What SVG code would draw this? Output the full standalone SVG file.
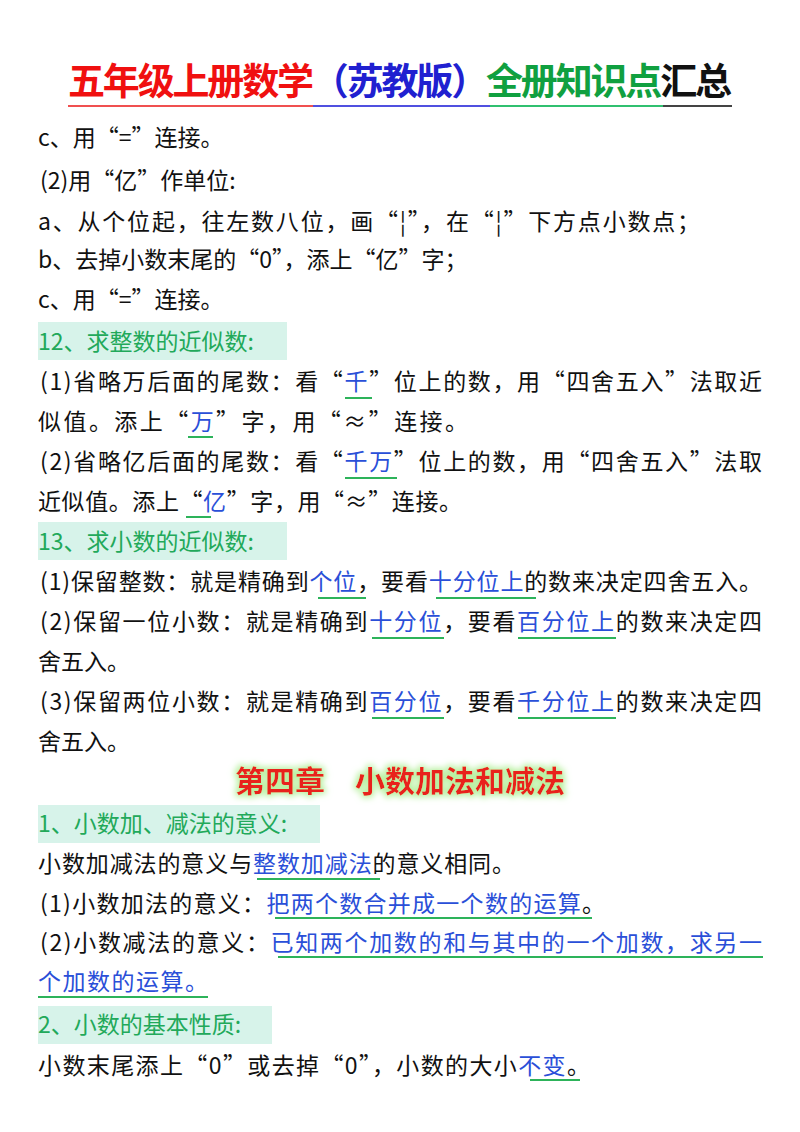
<svg xmlns="http://www.w3.org/2000/svg" width="800" height="1132" viewBox="0 0 800 1132">
<defs>
<style>
text{font-family:"Noto Sans CJK SC","Liberation Serif",serif;font-size:23px;fill:#111}
.t{font-size:37px;font-weight:bold}
.h{fill:#22a95a}
.b{fill:#2a4fd8}
.u{stroke:#2db35a;stroke-width:2}
.box{fill:#d7f3ea}
.ch{font-size:30px;font-weight:bold;fill:#e8201a}
</style>
<filter id="glow" x="-20%" y="-50%" width="140%" height="200%">
<feMorphology in="SourceAlpha" operator="dilate" radius="2" result="d"/>
<feGaussianBlur in="d" stdDeviation="3" result="g"/>
<feFlood flood-color="#b8f0a0"/>
<feComposite in2="g" operator="in" result="c"/>
<feMerge><feMergeNode in="c"/><feMergeNode in="SourceGraphic"/></feMerge>
</filter>
</defs>
<rect width="800" height="1132" fill="#fff"/>
<g id="title">
<text x="68" y="95" class="t" textLength="664"><tspan fill="#f01010">五年级上册数学</tspan><tspan fill="#2020d0">（苏教版）</tspan><tspan fill="#10a040">全册知识点</tspan><tspan fill="#111">汇总</tspan></text>
<line x1="68" y1="106" x2="313" y2="106" stroke="#f05050" stroke-width="2"/>
<line x1="313" y1="106" x2="490" y2="106" stroke="#5050e0" stroke-width="2"/>
<line x1="490" y1="106" x2="663" y2="106" stroke="#30c070" stroke-width="2"/>
<line x1="663" y1="106" x2="732" y2="106" stroke="#444" stroke-width="2"/>
</g>
<text x="38" y="146">c、用“=”连接。</text>
<text x="40" y="189">(2)用“亿”作单位:</text>
<text x="38" y="230" textLength="662">a、从个位起，往左数八位，画“¦”，在“¦”下方点小数点；</text>
<text x="38" y="268">b、去掉小数末尾的“0”，添上“亿”字；</text>
<text x="38" y="308">c、用“=”连接。</text>
<rect class="box" x="38" y="322" width="249" height="38"/>
<text x="38" y="350" class="h">12、求整数的近似数:</text>
<text x="40" y="390" textLength="722">(1)省略万后面的尾数：看“<tspan class="b">千</tspan>”位上的数，用“四舍五入”法取近</text>
<line class="u" x1="345" y1="398" x2="372" y2="398"/>
<text x="38" y="430" textLength="430">似值。添上“<tspan class="b">万</tspan>”字，用“≈”连接。</text>
<line class="u" x1="188" y1="437" x2="213" y2="437"/>
<text x="40" y="470" textLength="722">(2)省略亿后面的尾数：看“<tspan class="b">千万</tspan>”位上的数，用“四舍五入”法取</text>
<line class="u" x1="345" y1="478" x2="397" y2="478"/>
<text x="38" y="510" textLength="424">近似值。添上“<tspan class="b">亿</tspan>”字，用“≈”连接。</text>
<line class="u" x1="186" y1="517" x2="211" y2="517"/>
<rect class="box" x="38" y="522" width="249" height="38"/>
<text x="38" y="550" class="h">13、求小数的近似数:</text>
<text x="40" y="590" textLength="722">(1)保留整数：就是精确到<tspan class="b">个位</tspan>，要看<tspan class="b">十分位上</tspan>的数来决定四舍五入。</text>
<line class="u" x1="318" y1="598" x2="366" y2="598"/>
<line class="u" x1="436" y1="598" x2="536" y2="598"/>
<text x="40" y="630" textLength="722">(2)保留一位小数：就是精确到<tspan class="b">十分位</tspan>，要看<tspan class="b">百分位上</tspan>的数来决定四</text>
<line class="u" x1="372" y1="638" x2="444" y2="638"/>
<line class="u" x1="518" y1="638" x2="616" y2="638"/>
<text x="38" y="670">舍五入。</text>
<text x="40" y="710" textLength="722">(3)保留两位小数：就是精确到<tspan class="b">百分位</tspan>，要看<tspan class="b">千分位上</tspan>的数来决定四</text>
<line class="u" x1="372" y1="718" x2="444" y2="718"/>
<line class="u" x1="518" y1="718" x2="616" y2="718"/>
<text x="38" y="750">舍五入。</text>
<text x="400" y="792" class="ch" text-anchor="middle" filter="url(#glow)">第四章　小数加法和减法</text>
<rect class="box" x="38" y="805" width="282" height="38"/>
<text x="38" y="832" class="h">1、小数加、减法的意义:</text>
<text x="38" y="872" textLength="477">小数加减法的意义与<tspan class="b">整数加减法</tspan>的意义相同。</text>
<line class="u" x1="257" y1="879" x2="380" y2="879"/>
<text x="40" y="912" textLength="565">(1)小数加法的意义：<tspan class="b">把两个数合并成一个数的运算</tspan>。</text>
<line class="u" x1="275" y1="918" x2="592" y2="918"/>
<text x="40" y="951" textLength="722">(2)小数减法的意义：<tspan class="b">已知两个加数的和与其中的一个加数，求另一</tspan></text>
<line class="u" x1="278" y1="957" x2="763" y2="957"/>
<text x="38" y="990" class="b" textLength="170">个加数的运算。</text>
<line class="u" x1="38" y1="997" x2="208" y2="997"/>
<rect class="box" x="38" y="1006" width="234" height="38"/>
<text x="38" y="1033" class="h">2、小数的基本性质:</text>
<text x="38" y="1074" textLength="552">小数末尾添上“0”或去掉“0”，小数的大小<tspan class="b">不变</tspan>。</text>
<line class="u" x1="530" y1="1080" x2="580" y2="1080"/>
</svg>
